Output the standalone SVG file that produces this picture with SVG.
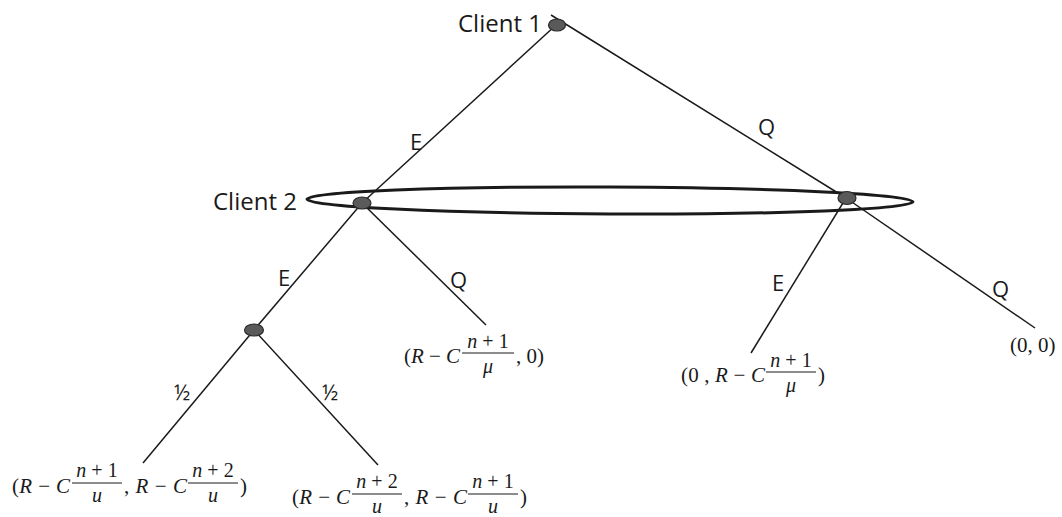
<svg xmlns="http://www.w3.org/2000/svg" width="1062" height="517" viewBox="0 0 1062 517">
<style>
.edge{stroke:#1a1a1a;stroke-width:1.5;fill:none}
.node{fill:#5a5a5a;stroke:#2a2a2a;stroke-width:1.2}
.lbl{font-family:"Open Sans","Liberation Sans",sans-serif;font-size:22px;fill:#1a1a1a}
.cl{font-family:"Open Sans","Liberation Sans",sans-serif;font-size:24px;fill:#1a1a1a}
.m{font-family:"Liberation Serif","DejaVu Serif",serif;font-size:21px;fill:#1a1a1a}
.f{font-family:"Liberation Serif","DejaVu Serif",serif;font-size:20px;fill:#1a1a1a;text-anchor:middle}
.it{font-style:italic}
.bar{stroke:#1a1a1a;stroke-width:1.2}
</style>
<rect width="1062" height="517" fill="#ffffff"/>
<g id="connectors">
<line class="edge" x1="551" y1="15" x2="846" y2="198"/>
<line class="edge" x1="846" y1="198" x2="1035" y2="328"/>
<line class="edge" x1="556" y1="25" x2="362" y2="203"/>
<line class="edge" x1="362" y1="203" x2="254" y2="330"/>
<line class="edge" x1="362" y1="203" x2="486" y2="325"/>
<line class="edge" x1="254" y1="330" x2="143" y2="463"/>
<line class="edge" x1="254" y1="330" x2="378" y2="465"/>
<line class="edge" x1="846" y1="198" x2="751" y2="353"/>
<text class="lbl" x="410" y="150">E</text>
<text class="lbl" x="758" y="135">Q</text>
<text class="lbl" x="278" y="286">E</text>
<text class="lbl" x="450" y="288">Q</text>
<text class="lbl" x="772" y="291">E</text>
<text class="lbl" x="992" y="297">Q</text>
<text class="lbl" x="174" y="400" style="font-size:21px">½</text>
<text class="lbl" x="322" y="400" style="font-size:21px">½</text>
</g>
<g id="infoset">
<ellipse cx="610" cy="200.5" rx="303" ry="13.5" fill="none" stroke="#1a1a1a" stroke-width="3" transform="rotate(0.25 610 200.5)"/>
</g>
<g id="client1">
<ellipse class="node" cx="557" cy="25" rx="8.5" ry="6"/>
<text class="cl" x="458" y="32">Client 1</text>
</g>
<g id="client2">
<ellipse class="node" cx="362" cy="203" rx="9" ry="6"/>
<text class="cl" x="213" y="210">Client 2</text>
</g>
<g id="client2b">
<ellipse class="node" cx="847" cy="198" rx="9" ry="6.5"/>
</g>
<g id="chance">
<ellipse class="node" cx="254" cy="330" rx="9.5" ry="6"/>
</g>
<g id="payoff-EEleft">
<text class="m" x="12" y="493" textLength="58">(<tspan class="it">R</tspan> − <tspan class="it">C</tspan></text>
<text class="f" x="97" y="477"><tspan class="it">n</tspan> + 1</text>
<line class="bar" x1="72" y1="483" x2="122" y2="483"/>
<text class="f it" x="97" y="502">u</text>
<text class="m" x="124" y="493" textLength="63">, <tspan class="it">R</tspan> − <tspan class="it">C</tspan></text>
<text class="f" x="213" y="477"><tspan class="it">n</tspan> + 2</text>
<line class="bar" x1="188" y1="483" x2="238" y2="483"/>
<text class="f it" x="213" y="502">u</text>
<text class="m" x="240" y="493">)</text>
</g>
<g id="payoff-EEright" transform="translate(280 11)">
<text class="m" x="12" y="493" textLength="58">(<tspan class="it">R</tspan> − <tspan class="it">C</tspan></text>
<text class="f" x="97" y="477"><tspan class="it">n</tspan> + 2</text>
<line class="bar" x1="72" y1="483" x2="122" y2="483"/>
<text class="f it" x="97" y="502">u</text>
<text class="m" x="124" y="493" textLength="63">, <tspan class="it">R</tspan> − <tspan class="it">C</tspan></text>
<text class="f" x="213" y="477"><tspan class="it">n</tspan> + 1</text>
<line class="bar" x1="188" y1="483" x2="238" y2="483"/>
<text class="f it" x="213" y="502">u</text>
<text class="m" x="240" y="493">)</text>
</g>
<g id="payoff-EQ">
<text class="m" x="404" y="363" textLength="56">(<tspan class="it">R</tspan> − <tspan class="it">C</tspan></text>
<text class="f" x="488" y="348"><tspan class="it">n</tspan> + 1</text>
<line class="bar" x1="462" y1="353" x2="514" y2="353"/>
<text class="f it" x="488" y="373">μ</text>
<text class="m" x="516" y="363" textLength="28">, 0)</text>
</g>
<g id="payoff-QE">
<text class="m" x="681" y="382" textLength="84">(0 , <tspan class="it">R</tspan> − <tspan class="it">C</tspan></text>
<text class="f" x="791" y="367"><tspan class="it">n</tspan> + 1</text>
<line class="bar" x1="766" y1="372" x2="816" y2="372"/>
<text class="f it" x="791" y="392">μ</text>
<text class="m" x="818" y="382">)</text>
</g>
<g id="payoff-QQ">
<text class="m" x="1010" y="352">(0, 0)</text>
</g>
</svg>
